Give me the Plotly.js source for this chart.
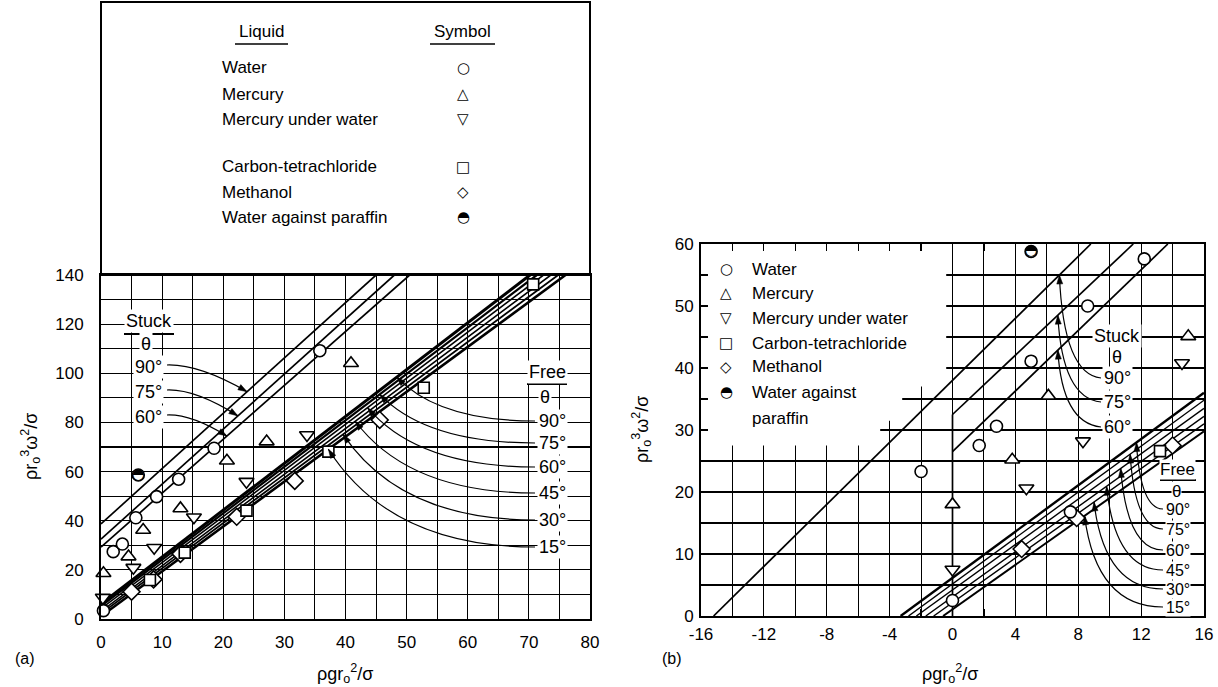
<!DOCTYPE html>
<html><head><meta charset="utf-8">
<script src="https://cdn.plot.ly/plotly-3.0.1.min.js"></script>
<style>html,body{margin:0;padding:0;background:#fff;}#chart{width:1218px;height:687px;}</style>
</head><body><div id="chart"></div>
<script>
// ---------------- Panel (a) data ----------------
const waterA_x = [-1.4, 0.4, 2.0, 3.5, 5.7, 9.1, 12.7, 18.5, 35.8];
const waterA_y = [23.7, 3.4, 27.4, 30.5, 41.2, 49.8, 56.9, 69.5, 109.2];
const mercuryA_x = [0.4, 4.5, 6.9, 13.0, 20.6, 27.1, 40.9];
const mercuryA_y = [18.6, 25.4, 36.2, 45.0, 64.4, 72.2, 104.1];
const mercWaterA_x = [0.3, 5.3, 8.7, 15.2, 23.8, 33.7];
const mercWaterA_y = [8.7, 20.9, 29.0, 41.4, 55.9, 74.9];
const carbonA_x = [8.0, 13.7, 23.8, 37.2, 52.8, 70.7];
const carbonA_y = [15.9, 27.0, 44.1, 68.1, 94.1, 136.2];
const methanolA_x = [5.0, 8.6, 13.0, 22.2, 31.7, 45.6];
const methanolA_y = [11.1, 16.1, 26.5, 41.6, 56.2, 81.0];
const paraffinA_x = [6.1];
const paraffinA_y = [58.6];

// stuck lines (a): 90, 75, 60 deg
const stuckA_x0 = [0, 0, 0], stuckA_y0 = [38.7, 32.5, 29.3];
const stuckA_x1 = [45.0, 48.0, 50.5], stuckA_y1 = [140, 140, 140];
// free lines (a): 90,75,60,45,30,15 deg
const freeA_x0 = [0, 0, 0, 0, 0, 0], freeA_y0 = [6.2, 5.2, 4.2, 3.1, 2.2, 1.1];
const freeA_x1 = [70.2, 71.3, 72.4, 73.6, 74.8, 76.0], freeA_y1 = [140, 140, 140, 140, 140, 140];

// ---------------- Panel (b) data ----------------
const waterB_x = [-2.0, 0, 1.7, 2.8, 5.0, 7.5, 8.6, 12.2];
const waterB_y = [23.3, 2.5, 27.5, 30.6, 41.1, 16.8, 50.0, 57.6];
const mercuryB_x = [0, 3.8, 6.1, 15.0];
const mercuryB_y = [18.0, 25.2, 35.5, 45.1];
const mercWaterB_x = [0, 4.7, 8.3, 14.6];
const mercWaterB_y = [7.5, 20.6, 28.2, 40.8];
const carbonB_x = [13.2];
const carbonB_y = [26.6];
const methanolB_x = [4.4, 7.9, 14.0];
const methanolB_y = [10.8, 15.8, 27.5];
const paraffinB_x = [5.0];
const paraffinB_y = [58.8];

const stuckB_x0 = [-15.2, 0, 0], stuckB_y0 = [0, 32.5, 26.5];
const stuckB_x1 = [8.8, 11.5, 13.7], stuckB_y1 = [60, 60, 60];
const vertB_x = [0, 0], vertB_y = [0, 32.5];
const freeB_x0 = [-3.3, -2.8, -2.3, -1.7, -1.2, -0.6], freeB_y0 = [0, 0, 0, 0, 0, 0];
const freeB_x1 = [16, 16, 16, 16, 16, 16], freeB_y1 = [36.0, 34.8, 33.5, 32.2, 31.0, 29.8];

// tick labels
const xTicksA = [0, 10, 20, 30, 40, 50, 60, 70, 80];
const yTicksA = [0, 20, 40, 60, 80, 100, 120, 140];
const xTicksB = [-16, -12, -8, -4, 0, 4, 8, 12, 16];
const xTickTextB = ['-16', '-12', '-8', '-4', '0', '4', '8', '12', '16'];
const yTicksB = [0, 10, 20, 30, 40, 50, 60];

// labels
const liquidNames = ['Water', 'Mercury', 'Mercury under water', 'Carbon-tetrachloride', 'Methanol', 'Water against paraffin'];
const liquidGlyphs = ['\u25CB', '\u25B3', '\u25BD', '\u25A1', '\u25C7', '\u25D3'];
const stuckAngles = ['90°', '75°', '60°'];
const freeAngles = ['90°', '75°', '60°', '45°', '30°', '15°'];

// ---------------- layout helpers ----------------
const W = 1218, H = 687;
const FONT = '"Liberation Sans", Arial, sans-serif';
const SYMF = '"DejaVu Sans", sans-serif';
const px = x => x / W, py = y => 1 - y / H;
const AX = {x0: 101, x1: 590, y0: 619, y1: 275, xmin: 0, xmax: 80, ymin: 0, ymax: 140};
const BX = {x0: 701, x1: 1204, y0: 616, y1: 244, xmin: -16, xmax: 16, ymin: 0, ymax: 60};
function toPx(ax, x, y) {
  return [ax.x0 + (x - ax.xmin) / (ax.xmax - ax.xmin) * (ax.x1 - ax.x0),
          ax.y0 - (y - ax.ymin) / (ax.ymax - ax.ymin) * (ax.y0 - ax.y1)];
}
function lineY(x0, y0, x1, y1, x) { return y0 + (y1 - y0) * (x - x0) / (x1 - x0); }

const traces = [];
function addLines(x0, y0, x1, y1, xa, ya, widths) {
  for (let i = 0; i < x0.length; i++) {
    traces.push({x: [x0[i], x1[i]], y: [y0[i], y1[i]], xaxis: xa, yaxis: ya, mode: 'lines',
      line: {color: 'black', width: widths[i]}, hoverinfo: 'skip', showlegend: false});
  }
}
addLines(stuckA_x0, stuckA_y0, stuckA_x1, stuckA_y1, 'x', 'y', [1.7, 1.7, 1.7]);
addLines(freeA_x0, freeA_y0, freeA_x1, freeA_y1, 'x', 'y', [3.0, 2.2, 1.6, 1.6, 1.8, 2.6]);
addLines(stuckB_x0, stuckB_y0, stuckB_x1, stuckB_y1, 'x2', 'y2', [1.7, 1.7, 1.7]);
addLines([vertB_x[0]], [vertB_y[0]], [vertB_x[1]], [vertB_y[1]], 'x2', 'y2', [1.7]);
addLines(freeB_x0, freeB_y0, freeB_x1, freeB_y1, 'x2', 'y2', [2.4, 1.4, 1.4, 1.4, 1.4, 2.0]);

function addMarkers(xs, ys, xa, ya, symbol, size) {
  traces.push({x: xs, y: ys, xaxis: xa, yaxis: ya, mode: 'markers', cliponaxis: false,
    marker: {symbol: symbol, size: size, color: 'white', line: {color: 'black', width: 1.6}},
    hoverinfo: 'skip', showlegend: false});
}
function addParaffin(xs, ys, xa, ya) {
  traces.push({x: xs, y: ys, xaxis: xa, yaxis: ya, mode: 'markers', cliponaxis: false,
    marker: {symbol: 'circle', size: 12, color: 'white', line: {color: 'black', width: 1.6}},
    hoverinfo: 'skip', showlegend: false});
  traces.push({x: xs, y: ys, xaxis: xa, yaxis: ya, mode: 'text', text: xs.map(() => '\u25D3'),
    textposition: 'middle center', cliponaxis: false,
    textfont: {family: SYMF, size: 15, color: 'black'}, hoverinfo: 'skip', showlegend: false});
}
[['x', 'y', waterA_x, waterA_y, mercuryA_x, mercuryA_y, mercWaterA_x, mercWaterA_y, carbonA_x, carbonA_y, methanolA_x, methanolA_y, paraffinA_x, paraffinA_y],
 ['x2', 'y2', waterB_x, waterB_y, mercuryB_x, mercuryB_y, mercWaterB_x, mercWaterB_y, carbonB_x, carbonB_y, methanolB_x, methanolB_y, paraffinB_x, paraffinB_y]
].forEach(p => {
  const [xa, ya] = p;
  addMarkers(p[10], p[11], xa, ya, 'diamond', 13);
  addMarkers(p[8], p[9], xa, ya, 'square', 11);
  addMarkers(p[2], p[3], xa, ya, 'circle', 12);
  addMarkers(p[4], p[5], xa, ya, 'triangle-up', 13);
  addMarkers(p[6], p[7], xa, ya, 'triangle-down', 13);
  addParaffin(p[12], p[13], xa, ya);
});

// ---------------- annotations & shapes ----------------
const ann = [];
const shapes = [];
function text(t, x, y, size, opts) {
  ann.push(Object.assign({text: t, x: px(x), y: py(y), xref: 'paper', yref: 'paper', showarrow: false,
    font: {family: FONT, size: size, color: 'black'}, xanchor: 'center', yanchor: 'middle'}, opts || {}));
}
function hline(x0, x1, y, w) {
  shapes.push({type: 'line', xref: 'paper', yref: 'paper', x0: px(x0), x1: px(x1), y0: py(y), y1: py(y),
    line: {color: 'black', width: w || 1.5}});
}
function curve(sx, sy, cx, cy, ex, ey) {
  shapes.push({type: 'path', xref: 'paper', yref: 'paper',
    path: `M ${px(sx)},${py(sy)} Q ${px(cx)},${py(cy)} ${px(ex)},${py(ey)}`,
    line: {color: 'black', width: 1.2}});
  const dx = cx - ex, dy = cy - ey, L = Math.hypot(dx, dy) || 1;
  const ux = dx / L, uy = dy / L;
  const bx = ex + ux * 9, by = ey + uy * 9, nx = -uy * 3, ny = ux * 3;
  shapes.push({type: 'path', xref: 'paper', yref: 'paper',
    path: `M ${px(ex)},${py(ey)} L ${px(bx + nx)},${py(by + ny)} L ${px(bx - nx)},${py(by - ny)} Z`,
    fillcolor: 'black', line: {color: 'black', width: 0.5}});
}

// Legend box for (a)
shapes.push({type: 'rect', xref: 'paper', yref: 'paper', x0: px(101), x1: px(590), y0: py(275), y1: py(2),
  line: {color: 'black', width: 2}, fillcolor: 'rgba(0,0,0,0)'});
text('Liquid', 261, 32, 17);
text('Symbol', 462, 32, 17);
hline(235, 288, 44, 1.5);
hline(430, 495, 44, 1.5);
const rowY = [68, 94, 119, 167, 192, 217];
liquidNames.forEach((n, i) => {
  text(n, 220, rowY[i], 17, {xanchor: 'left'});
  text(liquidGlyphs[i], 463, rowY[i], 15, {font: {family: SYMF, size: 15, color: 'black'}});
});

// Legend for (b) (white area hiding the grid)
shapes.push({type: 'path', xref: 'x2', yref: 'y2', layer: 'between',
  path: 'M -16,60 L -0.4,60 L -0.4,37 L -3.2,37 L -3.2,31.5 L -4.6,31.5 L -4.6,27.5 L -16,27.5 Z',
  fillcolor: 'white', line: {width: 0}});
const rowYB = [269, 293, 318, 343, 367, 392];
liquidNames.forEach((n, i) => {
  const t = i === 5 ? 'Water against' : n;
  text(t, 750, rowYB[i], 17, {xanchor: 'left'});
  text(liquidGlyphs[i], 726, rowYB[i], 15, {font: {family: SYMF, size: 15, color: 'black'}});
});
text('paraffin', 750, 418, 17, {xanchor: 'left'});

// Stuck labels (a)
text('Stuck', 149, 321, 18, {bgcolor: 'white'});
hline(124, 174, 334, 1.8);
text('θ', 146, 344, 18, {bgcolor: 'white'});
const stuckLabA_y = [367, 392, 417];
const stuckEndA_x = [23.9, 22.4, 20.6];
stuckAngles.forEach((a, i) => {
  text(a, 148, stuckLabA_y[i], 18, {bgcolor: 'white'});
  const [ex, ey] = toPx(AX, stuckEndA_x[i], lineY(stuckA_x0[i], stuckA_y0[i], stuckA_x1[i], stuckA_y1[i], stuckEndA_x[i]));
  curve(167, stuckLabA_y[i] - 2, ex - 0.6 * (ex - 167), stuckLabA_y[i] - 3, ex, ey);
});
// Free labels (a)
text('Free', 547, 372, 18, {bgcolor: 'white'});
hline(527, 567, 384, 1.8);
text('θ', 545, 397, 18, {bgcolor: 'white'});
const freeLabA_y = [421, 443, 467, 493, 520, 547];
const freeEndA_x = [48.4, 45.6, 43.6, 41.6, 39.6, 37.2];
freeAngles.forEach((a, i) => {
  text(a, 552, freeLabA_y[i], 18, {bgcolor: 'white'});
  const [ex, ey] = toPx(AX, freeEndA_x[i], lineY(freeA_x0[i], freeA_y0[i], freeA_x1[i], freeA_y1[i], freeEndA_x[i]));
  curve(535, freeLabA_y[i], ex + 0.3 * (535 - ex), freeLabA_y[i], ex, ey);
});

// Stuck labels (b)
text('Stuck', 1117, 336, 18, {bgcolor: 'white'});
hline(1094, 1140, 346, 1.8);
text('θ', 1117, 357, 18, {bgcolor: 'white'});
const stuckLabB_y = [378, 402, 427];
const stuckEndB_x = [6.8, 6.7, 6.7];
stuckAngles.forEach((a, i) => {
  text(a, 1117, stuckLabB_y[i], 18, {bgcolor: 'white'});
  const [ex, ey] = toPx(BX, stuckEndB_x[i], lineY(stuckB_x0[i], stuckB_y0[i], stuckB_x1[i], stuckB_y1[i], stuckEndB_x[i]));
  curve(1101, stuckLabB_y[i], ex + 0.1 * (1101 - ex), stuckLabB_y[i] - 4, ex, ey);
});
// Free labels (b)
text('Free', 1177, 469, 17, {bgcolor: 'white', borderpad: 0});
hline(1160, 1196, 480, 1.8);
text('θ', 1176, 491, 17, {bgcolor: 'white', borderpad: 0});
const freeLabB_y = [509, 529, 550, 570, 589, 607];
const freeEndB_x = [11.7, 11.3, 10.7, 9.8, 9.0, 8.4];
freeAngles.forEach((a, i) => {
  const [ex, ey] = toPx(BX, freeEndB_x[i], lineY(freeB_x0[i], freeB_y0[i], freeB_x1[i], freeB_y1[i], freeEndB_x[i]));
  curve(1163, freeLabB_y[i], ex + 0.15 * (1163 - ex), freeLabB_y[i], ex, ey);
});
freeAngles.forEach((a, i) => {
  text(a, 1178, freeLabB_y[i], 16, {bgcolor: 'white', borderpad: 0});
});

// axis titles and panel letters
const yTitle = '\u03C1r<sub>o</sub><sup>3</sup>\u03C9<sup>2</sup>/\u03C3';
const xTitle = '\u03C1gr<sub>o</sub><sup>2</sup>/\u03C3';
text(yTitle, 30, 447, 18, {textangle: -90});
text(yTitle, 641, 430, 18, {textangle: -90});
text(xTitle, 345, 673, 18);
text(xTitle, 950, 673, 18);
text('(a)', 25, 658, 16);
text('(b)', 672, 658, 16);

const tickfont = {family: FONT, size: 17, color: 'black'};
function axisBase(extra) {
  return Object.assign({showgrid: true, gridcolor: 'black', gridwidth: 1.1, zeroline: false,
    showline: true, linecolor: 'black', linewidth: 2, mirror: true, tickfont: tickfont, fixedrange: true}, extra);
}
const layout = {
  width: W, height: H, margin: {l: 0, r: 0, t: 0, b: 0},
  paper_bgcolor: 'white', plot_bgcolor: 'white', showlegend: false,
  xaxis: axisBase({domain: [px(AX.x0), px(AX.x1)], range: [0, 80], tickmode: 'array', tickvals: xTicksA,
    ticktext: xTicksA.map(String), anchor: 'y', ticks: '', ticklabelstandoff: 7,
    minor: {dtick: 5, tick0: 0, showgrid: true, gridcolor: 'black', gridwidth: 1.1}}),
  yaxis: axisBase({domain: [py(AX.y0), py(AX.y1)], range: [0, 140], tickmode: 'array', tickvals: yTicksA,
    ticktext: yTicksA.map(String), anchor: 'x', ticks: '', ticklabelstandoff: 12,
    minor: {dtick: 10, tick0: 0, showgrid: true, gridcolor: 'black', gridwidth: 1.1}}),
  xaxis2: axisBase({domain: [px(BX.x0), px(BX.x1)], range: [-16, 16], tickmode: 'array', tickvals: xTicksB,
    ticktext: xTickTextB, anchor: 'y2',
    ticks: 'inside', ticklen: 7, tickcolor: 'black', tickwidth: 1.2, mirror: 'ticks', ticklabelstandoff: 2,
    minor: {dtick: 2, tick0: 0, showgrid: true, gridcolor: 'black', gridwidth: 1.1, ticks: 'inside', ticklen: 7, tickcolor: 'black'}}),
  yaxis2: axisBase({domain: [py(BX.y0), py(BX.y1)], range: [0, 60], tickmode: 'array', tickvals: yTicksB,
    ticktext: yTicksB.map(String), anchor: 'x2',
    ticks: 'inside', ticklen: 7, tickcolor: 'black', tickwidth: 1.2, mirror: 'ticks', ticklabelstandoff: 2,
    minor: {dtick: 5, tick0: 0, showgrid: true, gridcolor: 'black', gridwidth: 1.1, ticks: 'inside', ticklen: 7, tickcolor: 'black'}}),
  annotations: ann,
  shapes: shapes
};
Plotly.newPlot('chart', traces, layout, {staticPlot: true, displayModeBar: false});
</script></body></html>
